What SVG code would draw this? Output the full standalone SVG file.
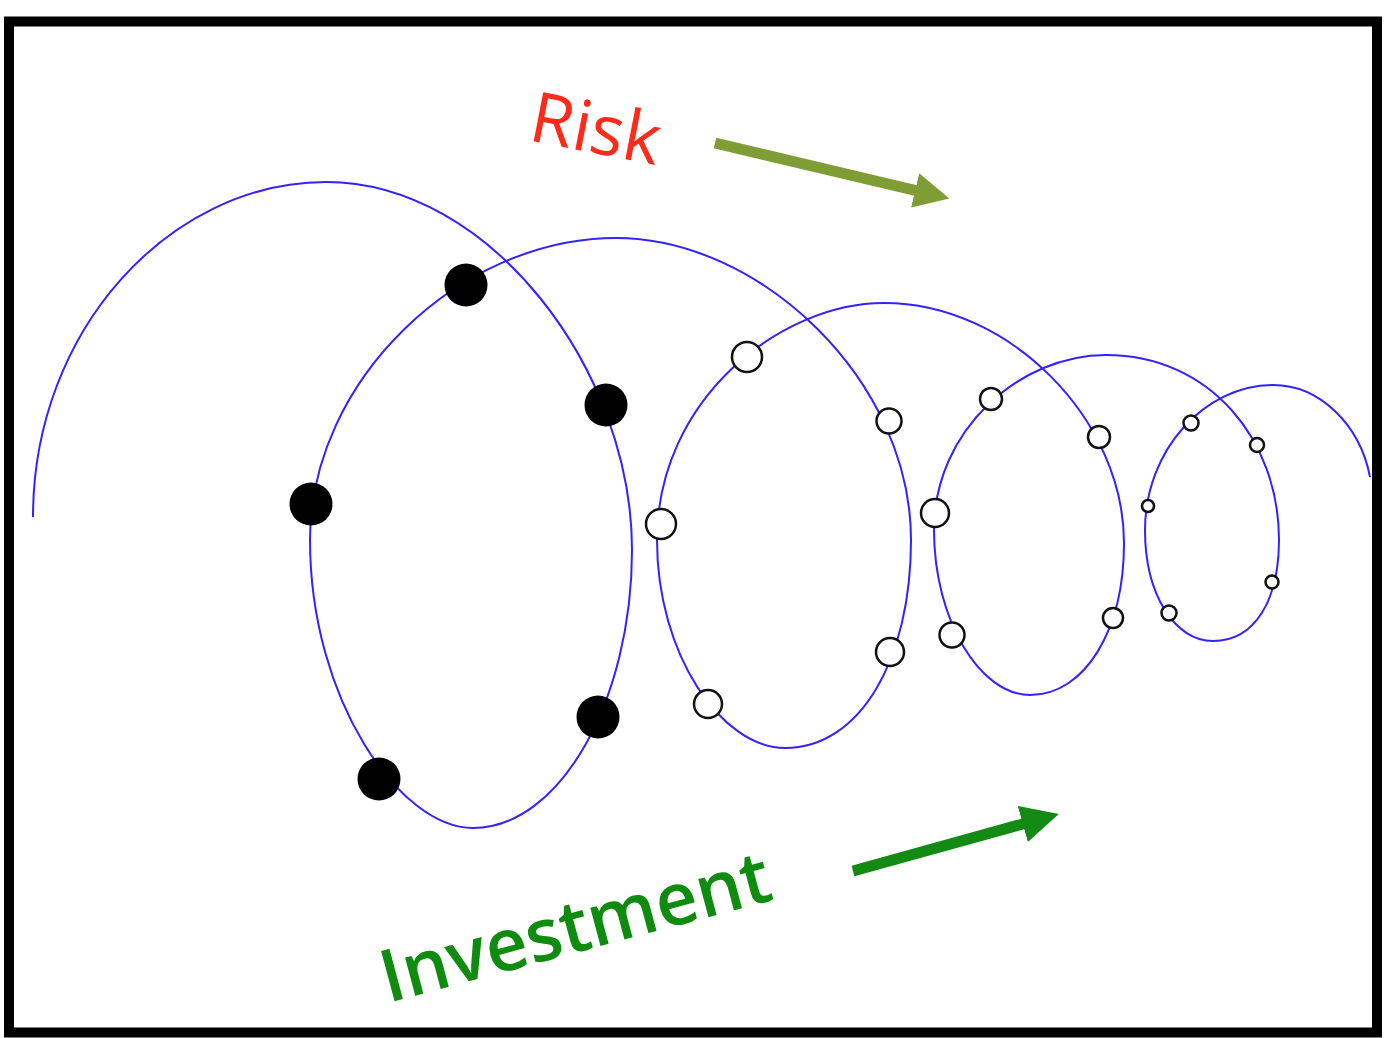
<svg xmlns="http://www.w3.org/2000/svg" width="1394" height="1038" viewBox="0 0 1394 1038">
<style>
.coil{fill:none;stroke:#3322ff;stroke-width:2}
.full{fill:#000}
.open{fill:#fff;stroke:#111;stroke-width:2.5}
.lbl{font-family:"Open Sans","DejaVu Sans",sans-serif}
</style>
<defs>
<marker id="headOlive" viewBox="0 0 10 10" refX="2" refY="5" markerWidth="3.2" markerHeight="3.2" orient="auto" markerUnits="strokeWidth">
<path d="M0,0 L10,5 L0,10 z" fill="#7f9c35"/>
</marker>
<marker id="headGreen" viewBox="0 0 10 10" refX="2" refY="5" markerWidth="3.4" markerHeight="3.4" orient="auto" markerUnits="strokeWidth">
<path d="M0,0 L10,5 L0,10 z" fill="#138a13"/>
</marker>
</defs>
<rect x="0" y="0" width="1394" height="1038" fill="#fff"/>
<rect id="frame" x="9" y="21.5" width="1368" height="1011" fill="none" stroke="#000" stroke-width="10"/>
<g id="connectors">
<path id="coil" class="coil" d="M33,517 C33,330 170,182 326,182 C490,182 632,370 632,550 C632,700 560,828 473,828 C400,828 310,700 310,540 C310,380 460,238 616,238 C760,238 911,380 911,540 C911,660 860,748 785,748 C722,748 657,655 657,540 C657,400 780,303 884,303 C1010,303 1124,420 1124,543 C1124,630 1085,695 1030,695 C980,695 934,620 934,530 C934,430 1020,355 1106,355 C1210,355 1279,440 1279,540 C1279,600 1255,641 1213,641 C1175,641 1145,595 1145,530 C1145,450 1205,385 1273,385 C1320,385 1360,425 1370,477"/>
<line id="risk-arrow" x1="715" y1="143" x2="922" y2="192" stroke="#7f9c35" stroke-width="11" marker-end="url(#headOlive)"/>
<line id="investment-arrow" x1="853" y1="871" x2="1030" y2="822" stroke="#138a13" stroke-width="11" marker-end="url(#headGreen)"/>
</g>
<g id="loop1-dots">
<circle class="full" cx="466" cy="285" r="21.5"/>
<circle class="full" cx="606" cy="405" r="21.5"/>
<circle class="full" cx="311" cy="504" r="21.5"/>
<circle class="full" cx="598" cy="717" r="21.5"/>
<circle class="full" cx="379" cy="779" r="21.5"/>
</g>
<g id="loop2-dots">
<circle class="open" cx="747" cy="357" r="15"/>
<circle class="open" cx="889" cy="421" r="12.5"/>
<circle class="open" cx="661" cy="524" r="15"/>
<circle class="open" cx="890" cy="652" r="14"/>
<circle class="open" cx="708" cy="704" r="14"/>
</g>
<g id="loop3-dots">
<circle class="open" cx="991" cy="399" r="11"/>
<circle class="open" cx="1099" cy="437" r="11"/>
<circle class="open" cx="935" cy="513" r="14"/>
<circle class="open" cx="952" cy="635" r="12.5"/>
<circle class="open" cx="1113" cy="618" r="10"/>
</g>
<g id="loop4-dots">
<circle class="open" cx="1191" cy="423" r="7.5"/>
<circle class="open" cx="1257" cy="445" r="7"/>
<circle class="open" cx="1148" cy="506" r="6"/>
<circle class="open" cx="1272" cy="582" r="6.5"/>
<circle class="open" cx="1169" cy="613" r="7.5"/>
</g>
<g id="labels">
<text id="risk" class="lbl" x="527" y="140" transform="rotate(11 527 140)" font-size="70" fill="#ff2a1a">Risk</text>
<text id="investment" class="lbl" x="388" y="1003" transform="rotate(-15 388 1003)" font-size="73" font-weight="600" fill="#0f8c0f">Investment</text>
</g>
</svg>
